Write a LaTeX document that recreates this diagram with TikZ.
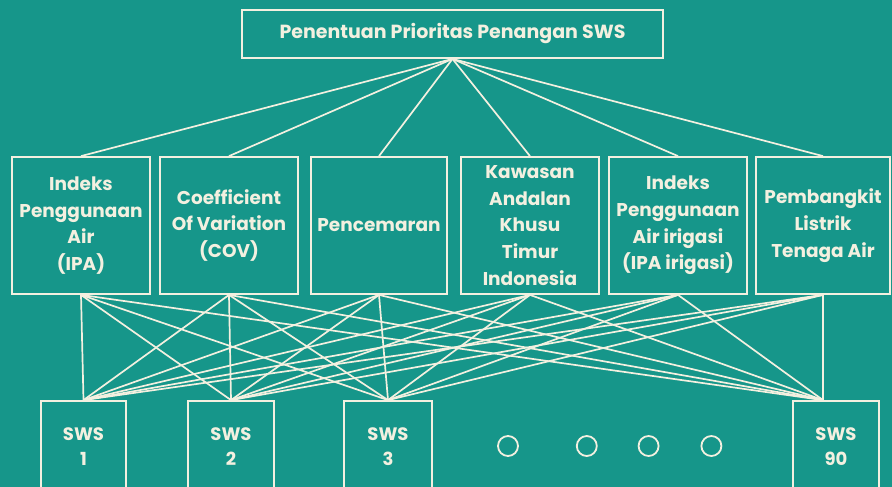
\documentclass[tikz,border=0pt]{standalone}
\usepackage{fontspec}
\setmainfont{Poppins}
\usetikzlibrary{positioning}
\definecolor{swsteal}{HTML}{16968A}
\definecolor{swsline}{HTML}{F3F0E0}
\tikzset{
  goal/.style={rectangle,draw=swsline,line width=1.8pt,minimum width=421pt,
               minimum height=48pt,inner sep=0pt,
               font=\fontsize{19}{22}\selectfont\bfseries,text=swsline},
  crit/.style={rectangle,draw=swsline,line width=1.8pt,minimum width=138pt,
               minimum height=137pt,inner sep=0pt,align=center,
               font=\fontsize{18.5}{26.7}\selectfont\bfseries,text=swsline},
  alt/.style={rectangle,draw=swsline,line width=1.8pt,minimum width=86pt,
              minimum height=92pt,inner sep=0pt,align=center,
              font=\fontsize{18}{25}\selectfont\bfseries,text=swsline},
  more/.style={circle,draw=swsline,line width=1.8pt,minimum size=20pt,inner sep=0pt},
  link/.style={draw=swsline,line width=1.7pt},
}
\begin{document}
\begin{tikzpicture}[x=1pt,y=-1pt]
\fill[swsteal] (0,0) rectangle (892,487);
\useasboundingbox (0,0) rectangle (892,487);
% goal
\node[goal] (goal) at (452.5,34) {Penentuan Prioritas Penangan SWS};
% criteria
\node[crit] (c1) at (81,225.5)  {Indeks\\Penggunaan\\Air\\(IPA)};
\node[crit] (c2) at (229,225.5) {Coefficient\\Of Variation\\(COV)};
\node[crit,minimum width=136pt] (c3) at (379,225.5) {Pencemaran};
\node[crit] (c4) at (530,225.5) {Kawasan\\Andalan\\Khusu\\Timur\\Indonesia};
\node[crit] (c5) at (678,225.5) {Indeks\\Penggunaan\\Air irigasi\\(IPA irigasi)};
\node[crit,minimum width=134pt] (c6) at (823,225.5) {Pembangkit\\Listrik\\Tenaga Air};
% alternatives
\node[alt,minimum width=85pt] (s1) at (83.5,447) {SWS\\1};
\node[alt] (s2) at (231,447) {SWS\\2};
\node[alt,minimum width=88pt] (s3) at (388,447) {SWS\\3};
\node[alt] (s90) at (836,447) {SWS\\90};
\node[more] (m1) at (508,446) {};
\node[more,right=57pt of m1] (m2) {};
\node[more,right=40pt of m2] (m3) {};
\node[more,right=41pt of m3] (m4) {};
\coordinate (t90) at (c6.south |- s90.north);
% links
\foreach \c in {c1,c2,c3,c4,c5,c6}
  \draw[link] (goal.south) -- (\c.north);
\foreach \c in {c1,c2,c3,c4,c5,c6}{
  \foreach \s in {s1,s2,s3}
    \draw[link] (\c.south) -- (\s.north);
  \draw[link] (\c.south) -- (t90);
}
\end{tikzpicture}
\end{document}
